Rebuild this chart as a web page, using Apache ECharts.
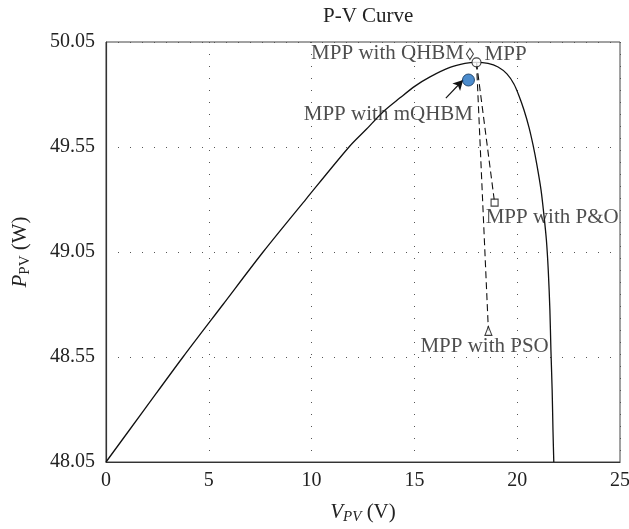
<!DOCTYPE html>
<html>
<head>
<meta charset="utf-8">
<script src="https://cdn.jsdelivr.net/npm/echarts@6/dist/echarts.min.js"></script>
<style>
  html, body { margin: 0; padding: 0; background: #fff; }
  #main { width: 629px; height: 529px; }
</style>
</head>
<body>
<div id="main"></div>
<script>
// P-V curve
const curveV = [0, 1.9, 3.745, 5.69, 7.64, 9.73, 11.82, 12.65, 13.47, 14.30, 15.03, 15.76, 16.73, 17.46, 18.00,
  18.58, 19.07, 19.50, 19.84, 20.09, 20.33, 20.57, 20.77, 20.96, 21.16, 21.30, 21.42, 21.51, 21.59, 21.64, 21.70, 21.74, 21.78];
const curveP = [48.05, 48.304, 48.55, 48.80, 49.05, 49.302, 49.55, 49.633, 49.717, 49.784, 49.84, 49.884, 49.929, 49.948, 49.953,
  49.948, 49.931, 49.898, 49.85, 49.793, 49.726, 49.645, 49.56, 49.464, 49.345, 49.226, 49.107, 48.964, 48.774, 48.583, 48.393, 48.202, 48.05];

// operating points
const mpp = [18.02, 49.953];
const mppQHBM = [17.70, 49.993];
const mppMQHBM = [17.63, 49.869];
const mppPO = [18.90, 49.285];
const mppPSO = [18.60, 48.674];
const arrowFrom = [16.53, 49.783];
const arrowTo = [17.37, 49.869];

const xTicks = [0, 5, 10, 15, 20, 25];
const yTicks = [48.05, 48.55, 49.05, 49.55, 50.05];

const FONT = '"Liberation Serif", "DejaVu Serif", serif';
const TXT = '#222';

const chart = echarts.init(document.getElementById('main'));

const dotted = { color: '#555', width: 1, type: [1, 11] };

const lbl = (extra) => Object.assign({
  show: true, fontFamily: FONT, fontSize: 21, color: TXT
}, extra);

const option = {
  animation: false,
  backgroundColor: '#fff',
  title: {
    text: 'P-V Curve', left: 318, top: 1,
    textStyle: { fontFamily: FONT, fontSize: 21, fontWeight: 'normal', color: TXT }
  },
  grid: {
    left: 106, right: 9, top: 42, bottom: 67,
    containLabel: false, outerBoundsMode: 'none',
    show: true, borderColor: '#444', borderWidth: 1
  },
  xAxis: {
    type: 'value', min: 0, max: 25, interval: 5,
    name: '{i|V}{s|PV}{n| (V)}', nameLocation: 'middle', nameGap: 37,
    nameTextStyle: {
      fontFamily: FONT, fontSize: 20, color: TXT,
      rich: {
        i: { fontFamily: FONT, fontSize: 21, fontStyle: 'italic', color: TXT, lineHeight: 26 },
        s: { fontFamily: FONT, fontSize: 15, fontStyle: 'italic', color: TXT, verticalAlign: 'bottom', lineHeight: 15 },
        n: { fontFamily: FONT, fontSize: 21, color: TXT, lineHeight: 26 }
      }
    },
    axisLine: { show: true, lineStyle: { color: '#333', width: 1.2 } },
    axisTick: { show: false },
    axisLabel: { fontFamily: FONT, fontSize: 20, color: TXT, margin: 9, customValues: xTicks },
    splitLine: { show: true, lineStyle: dotted }
  },
  yAxis: {
    type: 'value', min: 48.05, max: 50.05,
    name: '{i|P}{s|PV}{n| (W)}', nameLocation: 'middle', nameGap: 73, nameRotate: 90,
    nameTextStyle: {
      fontFamily: FONT, fontSize: 20, color: TXT,
      rich: {
        i: { fontFamily: FONT, fontSize: 21, fontStyle: 'italic', color: TXT, lineHeight: 26 },
        s: { fontFamily: FONT, fontSize: 15, color: TXT, verticalAlign: 'bottom', lineHeight: 15 },
        n: { fontFamily: FONT, fontSize: 21, color: TXT, lineHeight: 26 }
      }
    },
    axisLine: { show: true, lineStyle: { color: '#333', width: 1.2 } },
    axisTick: { show: false, customValues: yTicks },
    axisLabel: {
      fontFamily: FONT, fontSize: 20, color: TXT, margin: 11,
      customValues: yTicks, formatter: (v) => v.toFixed(2)
    },
    splitLine: { show: true, lineStyle: dotted }
  },
  series: [
    {
      type: 'line', name: 'P-V',
      data: curveV.map((v, i) => [v, curveP[i]]),
      showSymbol: false, smooth: 0.3,
      lineStyle: { color: '#111', width: 1.3 },
      z: 3,
      markLine: {
        silent: true, symbol: ['none', 'arrow'], symbolSize: [8, 10],
        label: { show: false },
        lineStyle: { color: '#111', width: 1.2, type: 'solid' },
        data: [[{ coord: arrowFrom }, { coord: arrowTo }]]
      }
    },
    {
      type: 'line', data: [mpp, mppPO], showSymbol: false,
      lineStyle: { color: '#111', width: 1.1, type: [7, 4] }, z: 2
    },
    {
      type: 'line', data: [mpp, mppPSO], showSymbol: false,
      lineStyle: { color: '#111', width: 1.1, type: [7, 4] }, z: 2
    },
    {
      type: 'scatter', data: [mpp], symbol: 'circle', symbolSize: 9, z: 5,
      itemStyle: { color: '#fff', borderColor: '#111', borderWidth: 1.1 },
      label: lbl({ formatter: 'MPP', position: 'right', distance: 3, offset: [0, -8] })
    },
    {
      type: 'scatter', data: [mppQHBM], symbol: 'diamond', symbolSize: [7, 11], z: 5,
      itemStyle: { color: '#fff', borderColor: '#111', borderWidth: 1.1 },
      label: lbl({ formatter: 'MPP with QHBM', position: 'left', distance: 2, offset: [0, 0] })
    },
    {
      type: 'scatter', data: [mppMQHBM], symbol: 'circle', symbolSize: 12, z: 6,
      itemStyle: { color: '#1f6fc0', borderColor: '#0e2f55', borderWidth: 1 },
      label: lbl({ formatter: 'MPP with mQHBM', position: 'left', distance: 5, offset: [16, 34] })
    },
    {
      type: 'scatter', data: [mppPO], symbol: 'rect', symbolSize: 7, z: 5,
      itemStyle: { color: '#fff', borderColor: '#111', borderWidth: 1.1 },
      label: lbl({ formatter: 'MPP with P&O', position: 'right', distance: 5, offset: [-18, 15] })
    },
    {
      type: 'scatter', data: [mppPSO], symbol: 'triangle', symbolSize: [7, 9], z: 5,
      itemStyle: { color: '#fff', borderColor: '#111', borderWidth: 1.1 },
      label: lbl({ formatter: 'MPP with PSO', position: 'right', distance: 5, offset: [-77, 16] })
    }
  ]
};

chart.setOption(option);
</script>
</body>
</html>
